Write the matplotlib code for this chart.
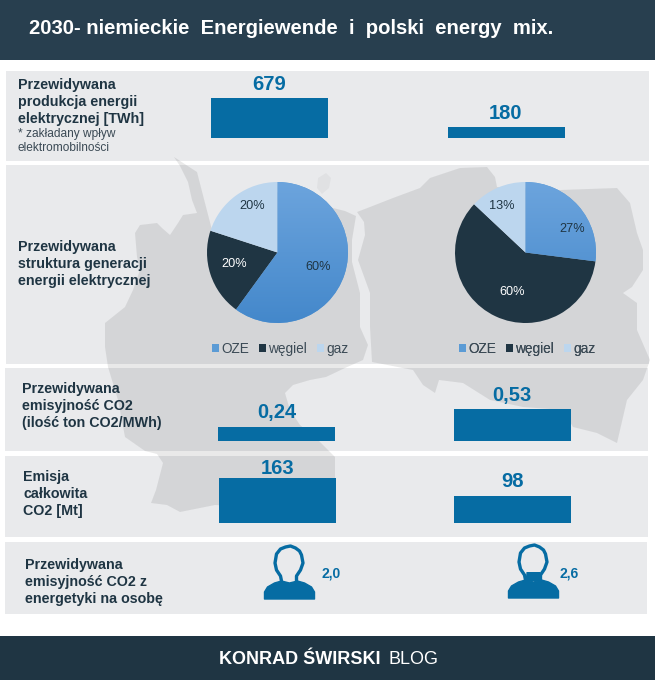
import numpy as np
import matplotlib
matplotlib.use("Agg")
import matplotlib.pyplot as plt
from matplotlib.patches import Rectangle, Polygon

plt.rcParams['font.family'] = ['Liberation Sans', 'DejaVu Sans']

W, H = 655, 680

# chart values
production = [679, 180]
production_labels = ['679', '180']
emission_rate = [0.24, 0.53]
emission_rate_labels = ['0,24', '0,53']
emission_total = [163, 98]
emission_total_labels = ['163', '98']
per_person_labels = ['2,0', '2,6']
pie_categories = ['OZE', 'węgiel', 'gaz']
pie_germany = [60, 20, 20]
pie_poland = [27, 60, 13]

NAVY = '#1f3543'
BLUE = '#066ca3'
PANEL = '#e9eaec'
PIE_LIGHT = '#bcd6ee'

# map outlines, in picture pixels
germany = [(174, 157), (180, 166), (188, 182), (192, 200), (197, 213), (183, 215), (178, 223),
           (170, 235), (162, 228), (157, 223), (140, 225), (135, 233), (137, 257), (140, 270),
           (133, 290), (125, 307), (105, 323), (105, 347), (108, 367), (118, 400), (125, 437),
           (145, 451), (157, 454), (163, 463), (156, 490), (151, 503), (167, 505), (180, 512),
           (215, 505), (262, 508), (300, 505), (335, 478), (335, 457), (318, 440), (300, 425),
           (290, 410), (285, 393), (293, 385), (310, 380), (326, 377), (345, 368), (363, 360),
           (368, 345), (360, 327), (360, 293), (352, 262), (352, 240), (356, 216), (345, 211),
           (333, 208), (320, 205), (270, 190), (230, 205), (212, 230), (205, 203), (197, 172)]
ruegen = [(318, 178), (326, 173), (331, 178), (329, 188), (322, 194), (317, 188)]
poland = [(357, 212), (370, 207), (393, 198), (420, 188), (430, 178), (460, 168), (487, 167),
          (495, 177), (497, 187), (560, 190), (617, 188), (630, 203), (637, 233), (643, 250),
          (643, 270), (632, 287), (623, 293), (637, 303), (637, 330), (650, 360), (643, 380),
          (627, 400), (617, 443), (597, 433), (573, 427), (563, 410), (523, 407), (490, 400),
          (463, 383), (439, 380), (435, 393), (423, 385), (413, 370), (372, 362), (370, 327),
          (370, 293), (358, 260), (365, 235), (364, 222)]

# person icon, pixels relative to the middle of the shoulders base
shoulders = [(-25, 0), (-25, -7), (-22, -12), (-15, -16), (-8, -18), (0, -16), (8, -18),
             (15, -16), (22, -12), (25, -7), (25, 0)]
head = [(-8, -18), (-9, -23), (-13, -29), (-14.5, -36), (-13, -45), (-9, -50), (-4, -52),
        (1, -53), (6, -51), (10, -48), (12, -44), (13.5, -36), (11, -29), (7, -23), (7, -18)]
neck = [(-8, -17), (-7, -26), (7, -26), (8, -17)]


def px_axes(left, top, right, bottom):
    return fig.add_axes([left / W, 1 - bottom / H, (right - left) / W, (bottom - top) / H])


def draw_bars(values, labels, center0, spacing, baseline, px_per_unit, offsets):
    top = baseline - 80
    ax = px_axes(center0 - spacing / 2, top, center0 + spacing * 1.5, baseline)
    ax.patch.set_alpha(0)
    ax.axis('off')
    ax.set_xlim(-0.5, 1.5)
    ax.set_ylim(0, 80 / px_per_unit)
    ax.bar([0, 1], values, width=117 / spacing, color=BLUE)
    for i, (v, lab, off) in enumerate(zip(values, labels, offsets)):
        ax.annotate(lab, (i, v), xytext=(0, off), textcoords='offset pixels', ha='center',
                    va='center', fontsize=14.5, fontweight='bold', color=BLUE, annotation_clip=False)


def draw_pie(values, center_x, center_y, radius, label_pos):
    ax = px_axes(center_x - radius, center_y - radius, center_x + radius, center_y + radius)
    ax.patch.set_alpha(0)
    wedges, _, autotexts = ax.pie(values, colors=['#5b9bd5', NAVY, PIE_LIGHT], startangle=90,
                                  counterclock=False, radius=1, autopct='%d%%',
                                  textprops={'fontsize': 9.2, 'color': NAVY})
    ax.set_xlim(-1, 1)
    ax.set_ylim(-1, 1)
    gradient = np.linspace(0, 1, 64).reshape(-1, 1, 1) * np.array([[[0x44 - 0x6c, 0x88 - 0xa4, 0xcb - 0xdd]]]) \
        + np.array([[[0x6c, 0xa4, 0xdd]]])
    im = ax.imshow(gradient / 255, extent=(-1, 1, -1, 1), aspect='auto', zorder=wedges[0].get_zorder() + 0.1)
    im.set_clip_path(wedges[0])
    for t, pos in zip(autotexts, label_pos):
        t.set_position(pos)
        t.set_zorder(5)
    autotexts[1].set_color('white')
    return ax, wedges


def draw_legend(wedges, left):
    leg = bg.legend(wedges, pie_categories, loc='center left', bbox_to_anchor=(left, 349),
                    bbox_transform=bg.transData, ncols=3, frameon=False, fontsize=9.8, handlelength=0.5,
                    handleheight=0.5, handletextpad=0.2, columnspacing=0.7, labelcolor='#3b4a55',
                    borderpad=0, borderaxespad=0)
    bg.add_artist(leg)


def draw_person(x, base_y, filled_neck):
    body = np.array(shoulders, dtype=float) + (x, base_y)
    bg.add_patch(Polygon(body, closed=True, fc=BLUE, ec=BLUE, lw=1.0, joinstyle='round', zorder=4))
    outline = np.array(head, dtype=float) + (x, base_y)
    bg.plot(outline[:, 0], outline[:, 1], color=BLUE, lw=2.4, solid_joinstyle='round', zorder=4)
    if filled_neck:
        bg.add_patch(Polygon(np.array(neck, dtype=float) + (x, base_y), closed=True, fc=BLUE, ec='none', zorder=4))


fig = plt.figure(figsize=(W / 100, H / 100), dpi=100, facecolor='white')
bg = fig.add_axes([0, 0, 1, 1])
bg.set_xlim(0, W)
bg.set_ylim(H, 0)
bg.axis('off')

# header, footer and the grey rows
bg.add_patch(Rectangle((0, 0), W, 60, fc='#283f4f', ec='none'))
bg.add_patch(Rectangle((0, 636), W, 44, fc=NAVY, ec='none'))
rows = [(6, 71, 649, 161), (6, 165, 649, 364), (5, 368, 648, 451), (5, 456, 648, 537), (5, 542, 647, 614)]
for x0, y0, x1, y1 in rows:
    bg.add_patch(Rectangle((x0, y0), x1 - x0, y1 - y0, fc=PANEL, ec='none', zorder=1))

# maps lie over the rows and also tint the white gaps
for outline in (germany, poland):
    bg.add_patch(Polygon(outline, closed=True, fc='black', ec='none', alpha=0.085, zorder=2))
bg.add_patch(Polygon(ruegen, closed=True, fc='black', ec='none', alpha=0.035, zorder=2))

bg.text(29, 29, '2030- niemieckie  Energiewende  i  polski  energy  mix.', color='white',
        fontsize=14.6, fontweight='bold', va='center', ha='left', zorder=5)
bg.text(219, 659, 'KONRAD ŚWIRSKI', color='white', fontsize=13, fontweight='bold', va='center', zorder=5)
bg.text(388, 659, 'BLOG', color='white', fontsize=13, va='center', zorder=5)

row_labels = [
    (18, [85, 102, 119], ['Przewidywana', 'produkcja energii', 'elektrycznej [TWh]']),
    (18, [247, 264, 281], ['Przewidywana', 'struktura generacji', 'energii elektrycznej']),
    (22, [389, 406, 423], ['Przewidywana', 'emisyjność CO2', '(ilość ton CO2/MWh)']),
    (23, [477, 494, 511], ['Emisja', 'całkowita', 'CO2 [Mt]']),
    (25, [565, 582, 599], ['Przewidywana', 'emisyjność CO2 z', 'energetyki na osobę']),
]
for x, ys, lines in row_labels:
    for y, line in zip(ys, lines):
        bg.text(x, y, line, fontsize=10.3, fontweight='bold', color=NAVY, va='center', zorder=5)
bg.text(18, 134, '* zakładany wpływ', fontsize=8.6, color='#3b4a55', va='center', zorder=5)
bg.text(18, 148, 'elektromobilności', fontsize=8.6, color='#3b4a55', va='center', zorder=5)

draw_bars(production, production_labels, 269.5, 236.5, 138, 40 / 679, [13, 14])
draw_bars(emission_rate, emission_rate_labels, 276.5, 235.5, 441, 32 / 0.53, [14, 14])
draw_bars(emission_total, emission_total_labels, 277.5, 234.5, 523, 45 / 163, [9, 14])

_, wedges_de = draw_pie(pie_germany, 277.5, 252.5, 70.5, [(0.57, -0.21), (-0.62, -0.17), (-0.36, 0.66)])
_, wedges_pl = draw_pie(pie_poland, 525.5, 252.5, 70.5, [(0.66, 0.33), (-0.19, -0.56), (-0.34, 0.66)])
draw_legend(wedges_de, 212)
draw_legend(wedges_pl, 459)

draw_person(289.5, 599, False)
draw_person(533.5, 598, True)
bg.text(322, 573, per_person_labels[0], fontsize=10, fontweight='bold', color=BLUE, va='center', zorder=5)
bg.text(560, 574, per_person_labels[1], fontsize=10, fontweight='bold', color=BLUE, va='center', zorder=5)

fig.savefig('out.png', dpi=100)
